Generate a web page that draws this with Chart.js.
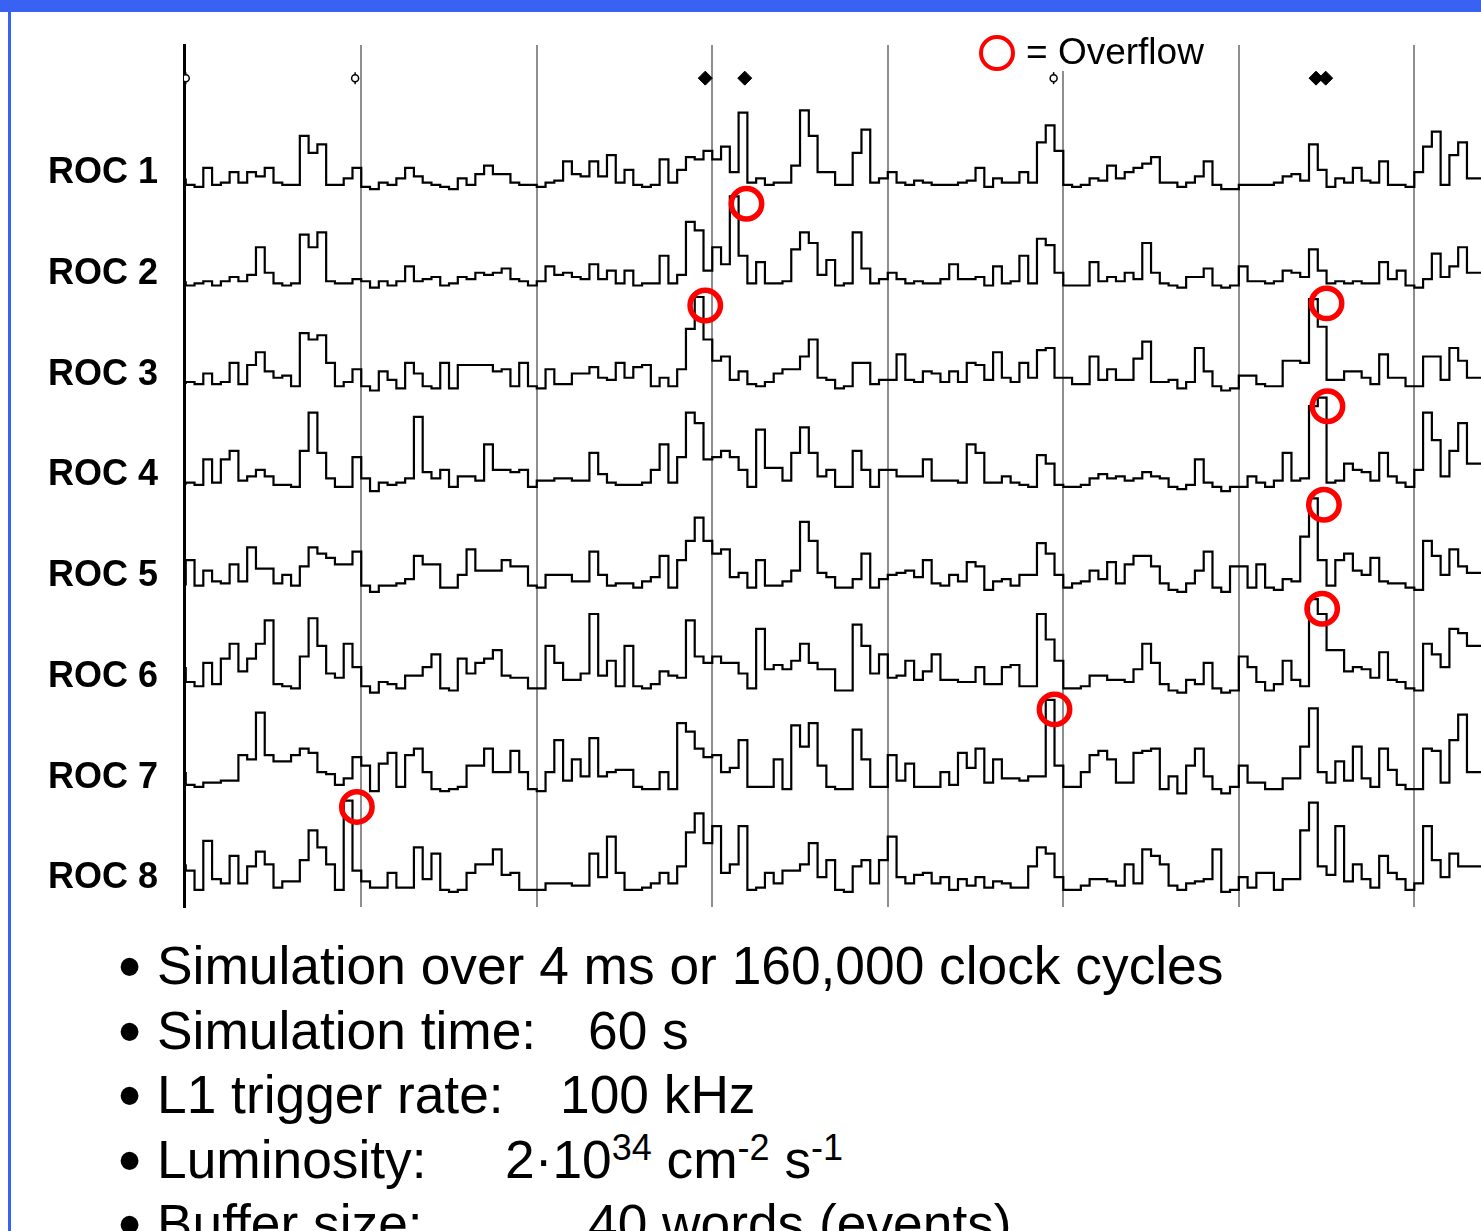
<!DOCTYPE html>
<html>
<head>
<meta charset="utf-8">
<script src="https://cdn.jsdelivr.net/npm/chart.js@4.4.0/dist/chart.umd.min.js"></script>
<style>
  html, body { margin: 0; padding: 0; background: #fff; }
  body { width: 1481px; height: 1231px; position: relative; overflow: hidden; font-family: "Liberation Sans", Arial, sans-serif; }
  #bandTop { position: absolute; left: 0; top: 0; width: 1481px; height: 12px; background: #3a62f2; }
  #bandLeft { position: absolute; left: 8px; top: 0; width: 3px; height: 1231px; background: #3a62f2; }
  #chart { position: absolute; left: 0; top: 0; }
  #legendRing { position: absolute; left: 979px; top: 35px; width: 36px; height: 36px; box-sizing: border-box; border: 4.5px solid #ff0000; border-radius: 50%; }
  #legendText { position: absolute; left: 1025px; top: 32px; height: 39px; line-height: 40px; font-size: 37px; background: #fff; padding: 0 4px 0 1px; color: #000; }
  .note { position: absolute; left: 0; height: 64px; width: 1481px; line-height: 64px; font-size: 53.3px; color: #000; }
  .note span { position: absolute; top: 0; white-space: nowrap; }
  .note .dot { font-size: 66px; left: 118px; }
  .note sup { font-size: 36px; line-height: 0; vertical-align: 18px; }
</style>
</head>
<body>
<div id="bandTop"></div>
<div id="bandLeft"></div>
<canvas id="chart" width="1481" height="915"></canvas>
<div id="legendRing"></div>
<div id="legendText"></div>
<div id="notes"></div>
<script>
// ROC buffer occupancy (words) per 1000-clock-cycle bin
const rocLabels = ['ROC 1', 'ROC 2', 'ROC 3', 'ROC 4', 'ROC 5', 'ROC 6', 'ROC 7', 'ROC 8'];
const cycleGrid = [20, 40, 60, 80, 100, 120, 140]; // thousand clock cycles

const roc1 = [5,2,1,10,2,3,8,3,8,6,10,3,2,2,25,17,21,2,2,5,10,1,0,3,2,5,10,6,3,2,1,0,5,2,7,11,7,7,3,2,2,1,3,4,13,7,6,13,6,
  16,3,9,2,1,2,14,3,9,15,14,18,14,20,8,36,3,5,2,3,3,11,37,25,8,8,2,2,17,28,3,5,8,3,2,4,3,2,2,2,3,4,10,1,5,3,3,8,3,
  22,30,18,2,1,2,5,4,11,5,8,10,12,15,3,3,1,3,6,13,2,0,0,2,2,2,2,3,6,7,4,21,9,1,5,3,10,4,3,13,2,2,1,8,20,27,2,16,22,5];
const roc2 = [4,2,3,4,2,4,6,4,7,20,8,3,2,3,26,20,27,4,3,3,5,4,1,4,2,4,11,4,5,6,2,3,6,5,8,7,8,10,5,4,2,4,11,7,8,6,5,12,5,
  9,3,9,2,3,3,16,3,7,32,28,9,20,12,44,16,3,13,3,3,4,19,27,22,7,14,2,3,27,10,3,5,8,5,3,4,3,3,5,12,5,5,6,2,11,3,4,16,3,
  24,21,8,2,2,2,13,4,6,4,8,5,22,8,3,2,1,6,6,10,2,1,2,11,4,4,3,4,9,8,6,19,9,3,4,3,4,3,3,13,5,9,2,1,5,17,6,11,20,8];
const roc3 = [3,4,3,8,3,4,13,3,12,18,9,6,7,2,27,24,26,13,2,4,10,2,0,9,5,1,13,8,2,1,13,1,12,12,12,12,9,10,2,13,2,1,10,3,3,8,8,11,6,
  5,13,6,11,12,2,6,2,10,29,44,24,14,16,5,9,3,2,4,8,10,10,16,24,6,5,1,2,13,13,3,5,5,17,5,4,9,8,4,9,4,13,12,5,18,6,4,13,6,
  19,20,6,6,3,3,16,5,10,5,5,15,23,4,4,5,1,4,20,9,2,0,1,7,7,3,2,2,14,14,13,43,30,5,5,9,9,6,3,17,6,6,2,2,16,16,5,20,14,6];
const roc4 = [3,4,3,15,4,15,19,5,7,10,7,3,3,2,19,37,18,6,2,2,16,6,0,4,3,4,6,35,9,6,10,2,7,7,5,22,10,10,9,10,2,5,5,6,6,5,5,18,8,
  4,3,3,3,4,10,22,4,16,37,32,15,16,19,16,10,2,29,11,11,5,18,30,18,7,10,2,2,19,10,2,10,10,7,7,7,15,5,5,5,4,22,18,4,4,7,4,3,2,
  17,13,3,2,2,3,6,8,6,7,5,6,9,7,6,2,1,3,15,4,2,0,2,2,7,4,2,5,18,5,6,40,44,4,5,13,10,9,5,18,7,4,2,10,37,24,7,19,32,13];
const roc5 = [3,15,3,10,5,4,13,5,21,11,11,4,8,3,12,21,18,16,13,13,19,3,0,3,3,4,6,17,13,13,2,2,8,20,10,10,10,15,12,12,3,2,8,8,8,5,5,19,8,
  3,4,4,2,5,7,17,2,15,24,35,24,18,20,7,9,2,15,3,3,5,10,33,24,9,7,2,2,6,18,2,6,8,9,10,7,15,4,3,8,5,14,12,1,5,6,3,8,8,
  23,18,8,2,4,5,10,6,14,4,13,17,17,12,4,1,0,4,10,19,2,0,12,12,2,13,2,1,6,5,26,44,15,3,15,18,10,8,16,5,4,4,2,1,24,17,8,20,12,9];
const roc6 = [12,5,3,14,4,16,23,10,16,23,34,4,3,2,17,35,22,9,7,23,12,3,0,5,4,2,8,8,12,18,2,1,16,9,14,16,20,8,7,7,2,2,22,14,6,6,9,37,8,
  15,3,22,3,2,4,10,8,7,34,17,14,17,14,14,9,2,30,11,13,11,15,23,14,11,11,1,1,32,22,9,18,7,8,15,6,10,18,6,6,5,5,12,4,4,12,13,3,3,
  37,25,15,2,2,3,8,8,6,6,5,11,23,14,4,1,0,6,4,14,2,0,1,17,12,5,1,4,15,6,3,44,37,20,20,10,12,11,7,19,6,5,2,1,23,18,12,30,28,22];
const roc7 = [10,4,3,5,5,6,6,18,16,38,18,15,15,18,21,19,10,9,4,7,17,13,1,14,19,3,18,21,10,2,1,2,3,13,13,21,10,10,20,10,2,1,10,25,6,16,8,26,8,
  10,11,11,3,2,2,10,2,33,29,21,17,18,10,12,25,3,3,3,16,2,32,22,33,13,3,2,2,30,16,3,3,18,6,14,3,3,3,10,4,19,12,21,5,16,7,7,6,8,
  8,44,13,3,3,10,18,20,16,5,5,19,20,21,2,8,0,13,21,8,2,0,3,13,5,5,2,2,7,7,22,40,10,5,15,6,22,7,3,21,11,4,2,2,21,20,5,25,37,10];
const roc8 = [14,11,2,25,7,5,18,5,13,20,14,3,6,6,16,30,22,14,2,44,11,6,3,3,10,3,3,22,7,19,2,1,2,10,14,14,21,9,10,2,2,2,5,5,5,4,4,19,8,
  27,10,2,2,3,5,10,5,13,29,38,24,32,10,14,32,2,3,10,5,11,11,14,24,8,16,2,1,13,16,5,16,27,8,5,9,10,5,8,2,7,4,8,3,6,5,3,3,13,
  22,19,8,2,2,4,7,7,6,4,14,5,21,18,14,4,2,5,6,7,21,1,2,8,3,10,10,2,7,7,30,43,13,9,32,6,14,7,3,18,10,7,2,5,32,16,8,19,13,13];
const rocSeries = [roc1, roc2, roc3, roc4, roc5, roc6, roc7, roc8];

// overflow events: bin position, ROC number, occupancy reached
const overflowX = [63.9, 59.2, 130.0, 130.1, 129.7, 129.5, 99.0, 19.5];
const overflowRoc = [2, 3, 3, 4, 5, 6, 7, 8];
const overflowLevel = [40.5, 40, 41, 40, 41, 39.5, 39.5, 41];

// trigger markers along the top
const markerX = [0, 19.3, 59.2, 63.7, 98.9, 128.8, 129.9];
const markerFilled = [false, false, true, true, false, true, true];

const legendLabel = '= Overflow';
const notes = [
  ['Simulation over 4 ms or 160,000 clock cycles', ''],
  ['Simulation time:', '60 s'],
  ['L1 trigger rate:', '100 kHz'],
  ['Luminosity:', '2·10<sup>34</sup> cm<sup>-2</sup> s<sup>-1</sup>'],
  ['Buffer size:', '40 words (events)']
];

const ROW = 47.4;      // words between two ROC baselines
const LABEL_LIFT = 7.4;
const TOP_LEVEL = 384;
const base = i => (7 - i) * ROW;

const traces = rocSeries.map((vals, i) => ({
  label: rocLabels[i],
  data: vals.map((v, k) => ({ x: k, y: base(i) + v }))
    .concat([{ x: vals.length, y: base(i) + vals[vals.length - 1] }]),
  stepped: 'after',
  borderColor: '#000',
  borderWidth: 2.2,
  pointRadius: 0,
  pointHoverRadius: 0,
  fill: false,
  order: 2
}));

const overflowSet = {
  label: 'Overflow',
  data: overflowX.map((x, j) => ({ x: x, y: base(overflowRoc[j] - 1) + overflowLevel[j] })),
  showLine: false,
  pointStyle: 'circle',
  pointRadius: 15.2,
  pointHoverRadius: 15.2,
  pointBorderWidth: 5.5,
  pointBorderColor: '#ff0000',
  pointBackgroundColor: 'rgba(0,0,0,0)',
  order: 0
};

const filledMarks = {
  label: 'trig',
  data: markerX.filter((x, j) => markerFilled[j]).map(x => ({ x: x, y: TOP_LEVEL })),
  showLine: false,
  pointStyle: 'rectRot',
  pointRadius: 7,
  pointBackgroundColor: '#000',
  pointBorderColor: '#000',
  pointBorderWidth: 1,
  order: 1
};
const openMarks = {
  label: 'trig open',
  data: markerX.filter((x, j) => !markerFilled[j]).map(x => ({ x: x, y: TOP_LEVEL })),
  showLine: false,
  pointStyle: 'circle',
  pointRadius: 3.5,
  pointBackgroundColor: '#fff',
  pointBorderColor: '#000',
  pointBorderWidth: 1.5,
  order: 1
};
const openStems = {
  label: 'trig stem',
  data: markerX.filter((x, j) => !markerFilled[j]).map(x => ({ x: x, y: TOP_LEVEL })),
  showLine: false,
  pointStyle: 'line',
  rotation: 90,
  pointRadius: 6,
  pointBorderColor: '#000',
  pointBorderWidth: 1.5,
  order: 1
};

new Chart(document.getElementById('chart').getContext('2d'), {
  type: 'line',
  data: { datasets: [overflowSet, filledMarks, openMarks, openStems].concat(traces) },
  options: {
    responsive: false,
    animation: false,
    devicePixelRatio: 1,
    layout: { autoPadding: false, padding: { top: 45, bottom: 8, left: 0, right: 0 } },
    plugins: { legend: { display: false }, tooltip: { enabled: false } },
    scales: {
      x: {
        type: 'linear', min: -0.2, max: 147.6,
        afterBuildTicks: s => { s.ticks = cycleGrid.map(v => ({ value: v })); },
        afterFit: s => { s.height = 0; },
        ticks: { display: false },
        grid: { color: '#8e8e8e', lineWidth: 2, drawTicks: false },
        border: { display: false }
      },
      y: {
        type: 'linear', min: -6.1, max: 399.6,
        afterBuildTicks: s => { s.ticks = rocLabels.map((n, i) => ({ value: base(i) + LABEL_LIFT })); },
        afterFit: s => { s.width = 184; s.paddingTop = 0; s.paddingBottom = 0; },
        ticks: {
          autoSkip: false,
          padding: 26,
          color: '#000',
          font: { family: 'Liberation Sans', size: 36, weight: 'bold' },
          callback: (v, i) => rocLabels[i]
        },
        grid: { display: false, drawTicks: false },
        border: { display: true, color: '#000', width: 3 }
      }
    }
  }
});

document.getElementById('legendText').textContent = legendLabel;

// bullet list under the chart
const valueLeft = [0, 588, 560, 505, 588];
const notesBox = document.getElementById('notes');
notes.forEach((n, i) => {
  const line = document.createElement('div');
  line.className = 'note';
  line.style.top = (934 + i * 64.5) + 'px';
  let html = '<span class="dot">•</span><span style="left:157px">' + n[0] + '</span>';
  if (n[1]) html += '<span style="left:' + valueLeft[i] + 'px">' + n[1] + '</span>';
  line.innerHTML = html;
  notesBox.appendChild(line);
});
</script>
</body>
</html>
